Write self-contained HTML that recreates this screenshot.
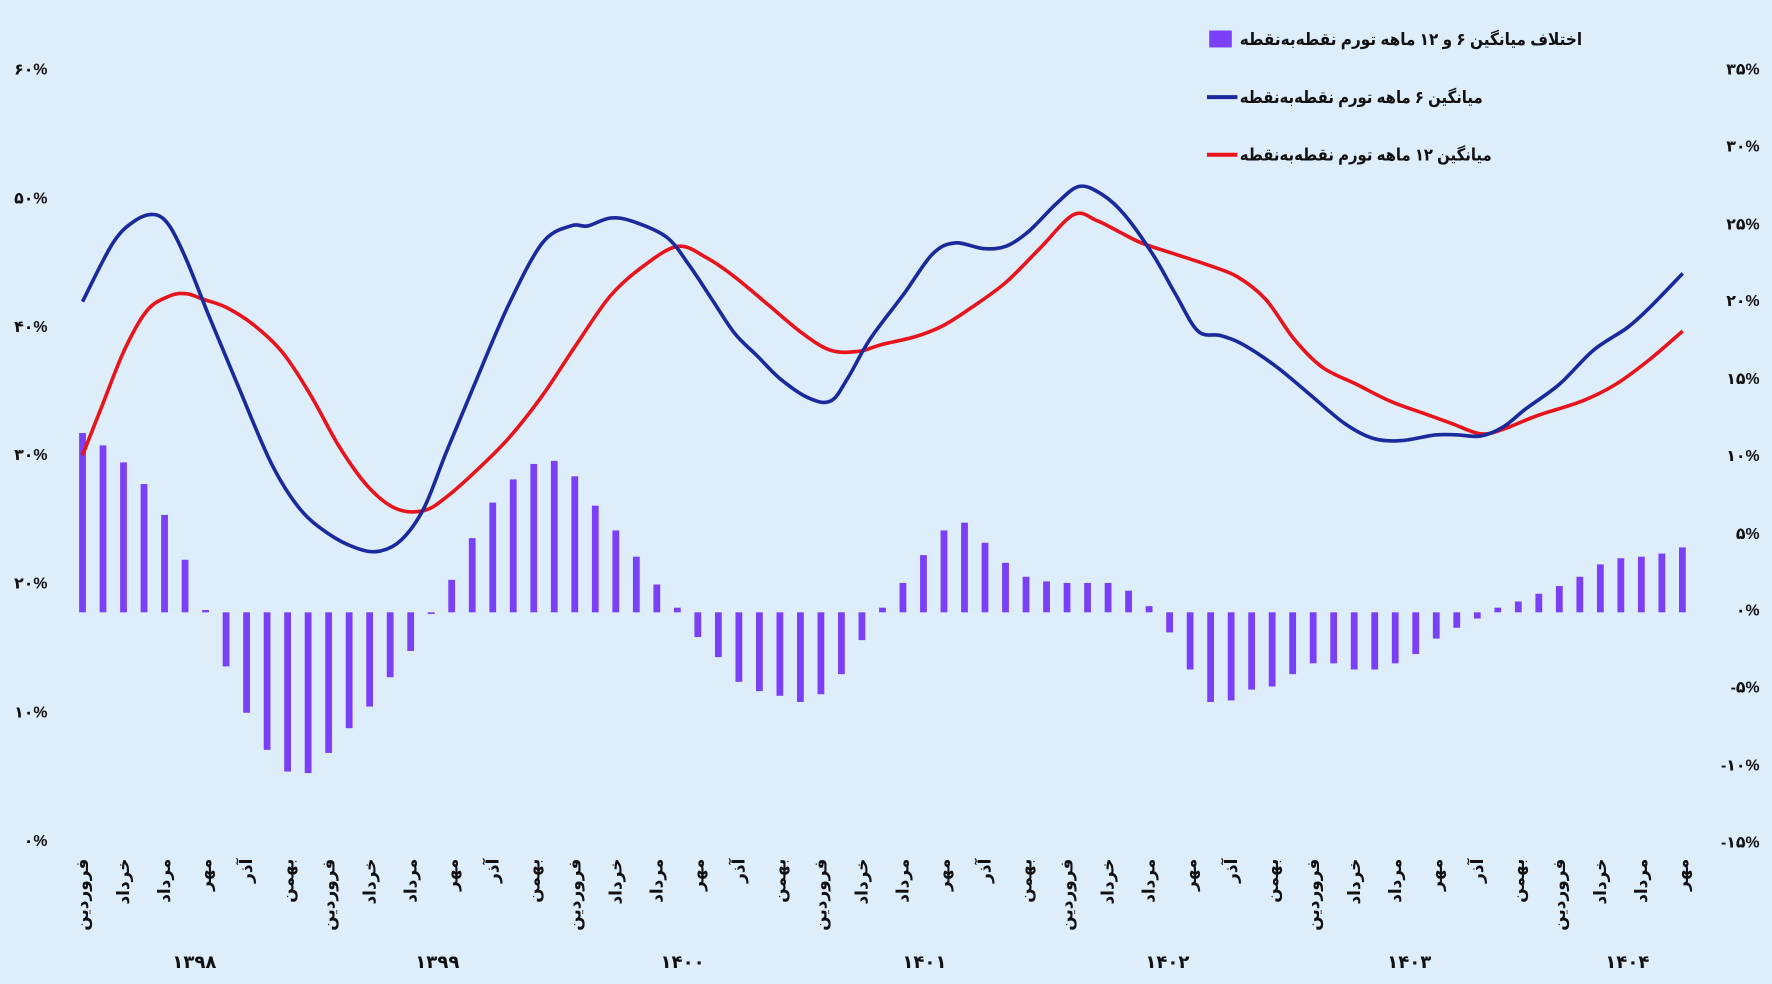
<!DOCTYPE html>
<html><head><meta charset="utf-8"><style>
html,body{margin:0;padding:0;background:#deedfa;}
svg{display:block}
text{font-family:"Liberation Sans","Noto Sans CJK SC","DejaVu Sans",sans-serif;font-weight:bold;fill:#111;}
</style></head><body>
<svg id="s" width="1772" height="984" viewBox="0 0 1568 871" preserveAspectRatio="none" xmlns="http://www.w3.org/2000/svg">
<rect width="1568" height="871" fill="#deedfa"/>
<g id="bars" fill="#7b3ff5"></g>
<path id="red" fill="none" stroke="#e8141c" stroke-width="3.2" stroke-linejoin="round"/>
<path id="blue" fill="none" stroke="#1a2a9c" stroke-width="3.2" stroke-linejoin="round"/>
<g font-size="14" text-anchor="end">
<text x="42" y="66">۶۰%</text><text x="42" y="180">۵۰%</text><text x="42" y="294">۴۰%</text>
<text x="42" y="407">۳۰%</text><text x="42" y="521">۲۰%</text><text x="42" y="635">۱۰%</text><text x="42" y="749">۰%</text>
</g>
<g font-size="14" text-anchor="end" direction="ltr">
<text x="1557" y="66">۳۵%</text><text x="1557" y="134">۳۰%</text><text x="1557" y="203">۲۵%</text>
<text x="1557" y="271">۲۰%</text><text x="1557" y="340">۱۵%</text><text x="1557" y="408">۱۰%</text>
<text x="1557" y="477">۵%</text><text x="1557" y="545">۰%</text><text x="1557" y="613">-۵%</text>
<text x="1557" y="682">-۱۰%</text><text x="1557" y="750">-۱۵%</text>
</g>
<g id="mlab" font-size="15" text-anchor="end"></g>
<g font-size="16" text-anchor="middle">
<text x="172" y="857">۱۳۹۸</text><text x="387" y="857">۱۳۹۹</text><text x="604" y="857">۱۴۰۰</text>
<text x="818" y="857">۱۴۰۱</text><text x="1033" y="857">۱۴۰۲</text><text x="1247" y="857">۱۴۰۳</text><text x="1440" y="857">۱۴۰۴</text>
</g>
<g font-size="15">
<rect x="1070" y="27" width="20" height="15" fill="#7b3ff5"/>
<text x="1097" y="40" textLength="303" lengthAdjust="spacingAndGlyphs">اختلاف میانگین ۶ و ۱۲ ماهه تورم نقطه‌به‌نقطه</text>
<line x1="1068" y1="86" x2="1095" y2="86" stroke="#1a2a9c" stroke-width="3.5"/>
<text x="1097" y="91" textLength="215" lengthAdjust="spacingAndGlyphs">میانگین ۶ ماهه تورم نقطه‌به‌نقطه</text>
<line x1="1068" y1="137" x2="1095" y2="137" stroke="#e8141c" stroke-width="3.5"/>
<text x="1097" y="142" textLength="223" lengthAdjust="spacingAndGlyphs">میانگین ۱۲ ماهه تورم نقطه‌به‌نقطه</text>
</g>
</svg>
<script>
var NS="http://www.w3.org/2000/svg";
var vals=[11.6,10.8,9.7,8.3,6.3,3.4,0.15,-3.5,-6.5,-8.9,-10.3,-10.4,-9.1,-7.5,-6.1,-4.2,-2.5,-0.1,2.1,4.8,7.1,8.6,9.6,9.8,8.8,6.9,5.3,3.6,1.8,0.3,-1.6,-2.9,-4.5,-5.1,-5.4,-5.8,-5.3,-4.0,-1.8,0.3,1.9,3.7,5.3,5.8,4.5,3.2,2.3,2.0,1.9,1.9,1.9,1.4,0.4,-1.3,-3.7,-5.8,-5.7,-5.0,-4.8,-4.0,-3.3,-3.3,-3.7,-3.7,-3.3,-2.7,-1.7,-1.0,-0.4,0.3,0.7,1.2,1.7,2.3,3.1,3.5,3.6,3.8,4.2];
var bars=document.getElementById("bars"),x0=73,dx=18.15,zero=542,k=68.4/5;
vals.forEach(function(v,i){var r=document.createElementNS(NS,"rect");var h=Math.max(Math.abs(v)*k,1.5);var x=x0+i*dx;
r.setAttribute("x",x-3);r.setAttribute("width",6);r.setAttribute("y",v>=0?zero-h:zero);r.setAttribute("height",h);bars.appendChild(r);});
var months=["فروردین","خرداد","مرداد","مهر","آذر","بهمن"];var ml=document.getElementById("mlab");
for(var i=0;i<79;i+=2){var t=document.createElementNS(NS,"text");var x=x0+i*dx+5;t.setAttribute("transform","translate("+x+",760) rotate(-90)");t.textContent=months[(i/2)%6];ml.appendChild(t);}
function path(p){var d="M"+p[0][0]+","+p[0][1];for(var i=0;i<p.length-1;i++){var a=p[Math.max(i-1,0)],b=p[i],c=p[i+1],e=p[Math.min(i+2,p.length-1)];
var c1=[b[0]+(c[0]-a[0])/6,b[1]+(c[1]-a[1])/6],c2=[c[0]-(e[0]-b[0])/6,c[1]-(e[1]-b[1])/6];d+=" C"+c1+" "+c2+" "+c;}return d;}
var blue=[[73,267],[100,215],[120,195],[137,190],[150,200],[165,230],[185,280],[210,340],[240,410],[265,450],[290,472],[315,485],[335,488],[355,478],[375,450],[395,400],[420,340],[450,270],[480,215],[505,200],[520,200],[540,193],[560,196],[590,210],[610,235],[630,265],[650,295],[670,315],[690,335],[715,352],[735,355],[750,335],[770,300],[800,260],[825,225],[845,215],[870,220],[890,218],[910,205],[935,180],[955,165],[975,172],[995,190],[1020,225],[1040,260],[1060,293],[1080,297],[1100,305],[1130,325],[1160,350],[1190,375],[1215,388],[1240,390],[1270,385],[1290,385],[1310,386],[1330,378],[1350,362],[1380,340],[1410,310],[1440,290],[1460,272],[1489,242]];
var red=[[73,403],[90,360],[110,310],[130,275],[150,262],[165,260],[180,265],[200,272],[225,288],[250,312],[275,350],[300,395],[325,430],[350,450],[375,452],[395,440],[420,418],[450,388],[480,350],[510,305],[540,262],[570,235],[600,218],[625,228],[650,245],[680,270],[710,295],[735,310],[760,311],[780,305],[810,298],[835,288],[860,272],[890,250],[920,220],[950,190],[970,195],[990,205],[1010,215],[1040,225],[1070,235],[1095,245],[1120,265],[1145,300],[1170,325],[1200,340],[1230,355],[1260,366],[1285,375],[1310,384],[1330,380],[1360,368],[1400,355],[1430,340],[1460,318],[1489,293]];
document.getElementById("blue").setAttribute("d",path(blue));
document.getElementById("red").setAttribute("d",path(red));
</script>
</body></html>
